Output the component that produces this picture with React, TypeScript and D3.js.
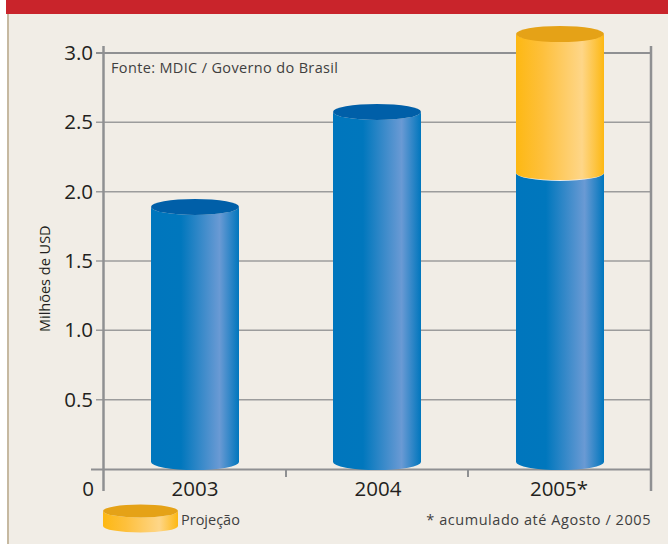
import React from "react";
import * as d3 from "d3";

const categories = ["2003", "2004", "2005*"];
const accumulated = [1.89, 2.575, 2.135];
const projected = [0, 0, 3.137];
const yTicks = [0.5, 1.0, 1.5, 2.0, 2.5, 3.0];
const legendLabel = "Projeção";
const sourceNote = "Fonte: MDIC / Governo do Brasil";
const periodNote = "* acumulado até Agosto / 2005";
const yTitle = "Milhões de USD";

const W = 668;
const H = 544;
const font = "'Open Sans', sans-serif";
const y = d3.scaleLinear().domain([0, 3]).range([469, 53]);
const barW = 88;
const RY = 8;
const grey = "#8f9092";
const tickSize = 20.5;

const blueStops: [number, string][] = [[0, "#0076bd"], [0.34, "#0077bd"], [0.78, "#6a9ad4"], [1, "#0076bd"]];
const amberStops: [number, string][] = [[0, "#fdb813"], [0.3, "#fec03c"], [0.75, "#fed688"], [1, "#fdb813"]];

function Grad({ id, stops }: { id: string; stops: [number, string][] }) {
  return (
    <linearGradient id={id} x1="0" x2="1" y1="0" y2="0">
      {stops.map(([o, c]) => <stop key={o} offset={o} stopColor={c} />)}
    </linearGradient>
  );
}

// Cylinder side: rounded top and bottom edges, with the cap ellipse drawn over the top.
function side(cx: number, w: number, top: number, bottom: number, ry: number) {
  const rx = w / 2;
  return `M${cx - rx},${top}L${cx - rx},${bottom}A${rx},${ry} 0 0 0 ${cx + rx},${bottom}L${cx + rx},${top}A${rx},${ry} 0 0 1 ${cx - rx},${top}Z`;
}

export default function App() {
  const base = y(0) - 7;
  return (
    <svg width={W} height={H} viewBox={`0 0 ${W} ${H}`}
      style={{ position: "absolute", left: 0, top: 0, display: "block" }}>
      <defs>
        <Grad id="blue" stops={blueStops} />
        <Grad id="amber" stops={amberStops} />
      </defs>
      <rect width={W} height={H} fill="#ffffff" />
      <rect x={7} y={0} width={W - 7} height={H} fill="#f1ede6" />
      <rect x={7} y={14} width={2} height={H - 14} fill="#c6b9a1" />
      <rect x={6} y={0} width={W - 6} height={14} fill="#c9242b" />

      {yTicks.map((t) => (
        <line key={t} x1={96} x2={651} y1={y(t)} y2={y(t)} stroke={t === 3 ? grey : "#9c9c9c"} strokeWidth={t === 3 ? 2 : 1.5} />
      ))}
      <line x1={91} x2={652} y1={469.5} y2={469.5} stroke={grey} strokeWidth={2} />
      <line x1={103.5} x2={103.5} y1={46} y2={491} stroke={grey} strokeWidth={2.5} />
      <line x1={651} x2={651} y1={46} y2={491} stroke={grey} strokeWidth={2.5} />
      {[286, 468].map((p) => (
        <line key={p} x1={p} x2={p} y1={469} y2={477} stroke={grey} strokeWidth={2} />
      ))}

      {yTicks.map((t) => (
        <text key={t} x={93} y={y(t) + 7} textAnchor="end" fontFamily={font} fontSize={tickSize} fill="#231f20">
          {t.toFixed(1)}
        </text>
      ))}
      <text x={94} y={495.5} textAnchor="end" fontFamily={font} fontSize={tickSize} fill="#231f20">0</text>
      <text transform="translate(50,332) rotate(-90)" fontFamily={font} fontSize={14.5} fill="#231f20">{yTitle}</text>
      <text x={111} y={72.5} fontFamily={font} fontSize={14.5} letterSpacing={0.35} fill="#3f3f3f">{sourceNote}</text>

      {categories.map((c, i) => {
        const cx = [195, 377, 560][i];
        const labelX = [195, 378, 559][i];
        const topV = y(accumulated[i]);
        const hasProjection = projected[i] > 0;
        const topP = y(projected[i]);
        return (
          <g key={c}>
            <path d={side(cx, barW, topV, base, RY)} fill="url(#blue)" />
            {!hasProjection && (
              <ellipse cx={cx} cy={topV} rx={barW / 2} ry={RY} fill="#005fa8" />
            )}
            {hasProjection && (
              <>
                <path d={side(cx, barW, topP, topV, RY - 1)} fill="url(#amber)" />
                <ellipse cx={cx} cy={topP} rx={barW / 2} ry={RY} fill="#e5a217" />
              </>
            )}
            <text x={labelX} y={495.5} textAnchor="middle" fontFamily={font} fontSize={tickSize} fill="#231f20">{c}</text>
          </g>
        );
      })}

      <path d={side(140.5, 75, 511, 526, 6.5)} fill="url(#amber)" />
      <ellipse cx={140.5} cy={511} rx={37.5} ry={6.5} fill="#e5a217" />
      <text x={181} y={525} fontFamily={font} fontSize={14.5} fill="#3f3f3f">{legendLabel}</text>
      <text x={651} y={525} textAnchor="end" fontFamily={font} fontSize={14.5} letterSpacing={0.55} fill="#3f3f3f">{periodNote}</text>
    </svg>
  );
}
